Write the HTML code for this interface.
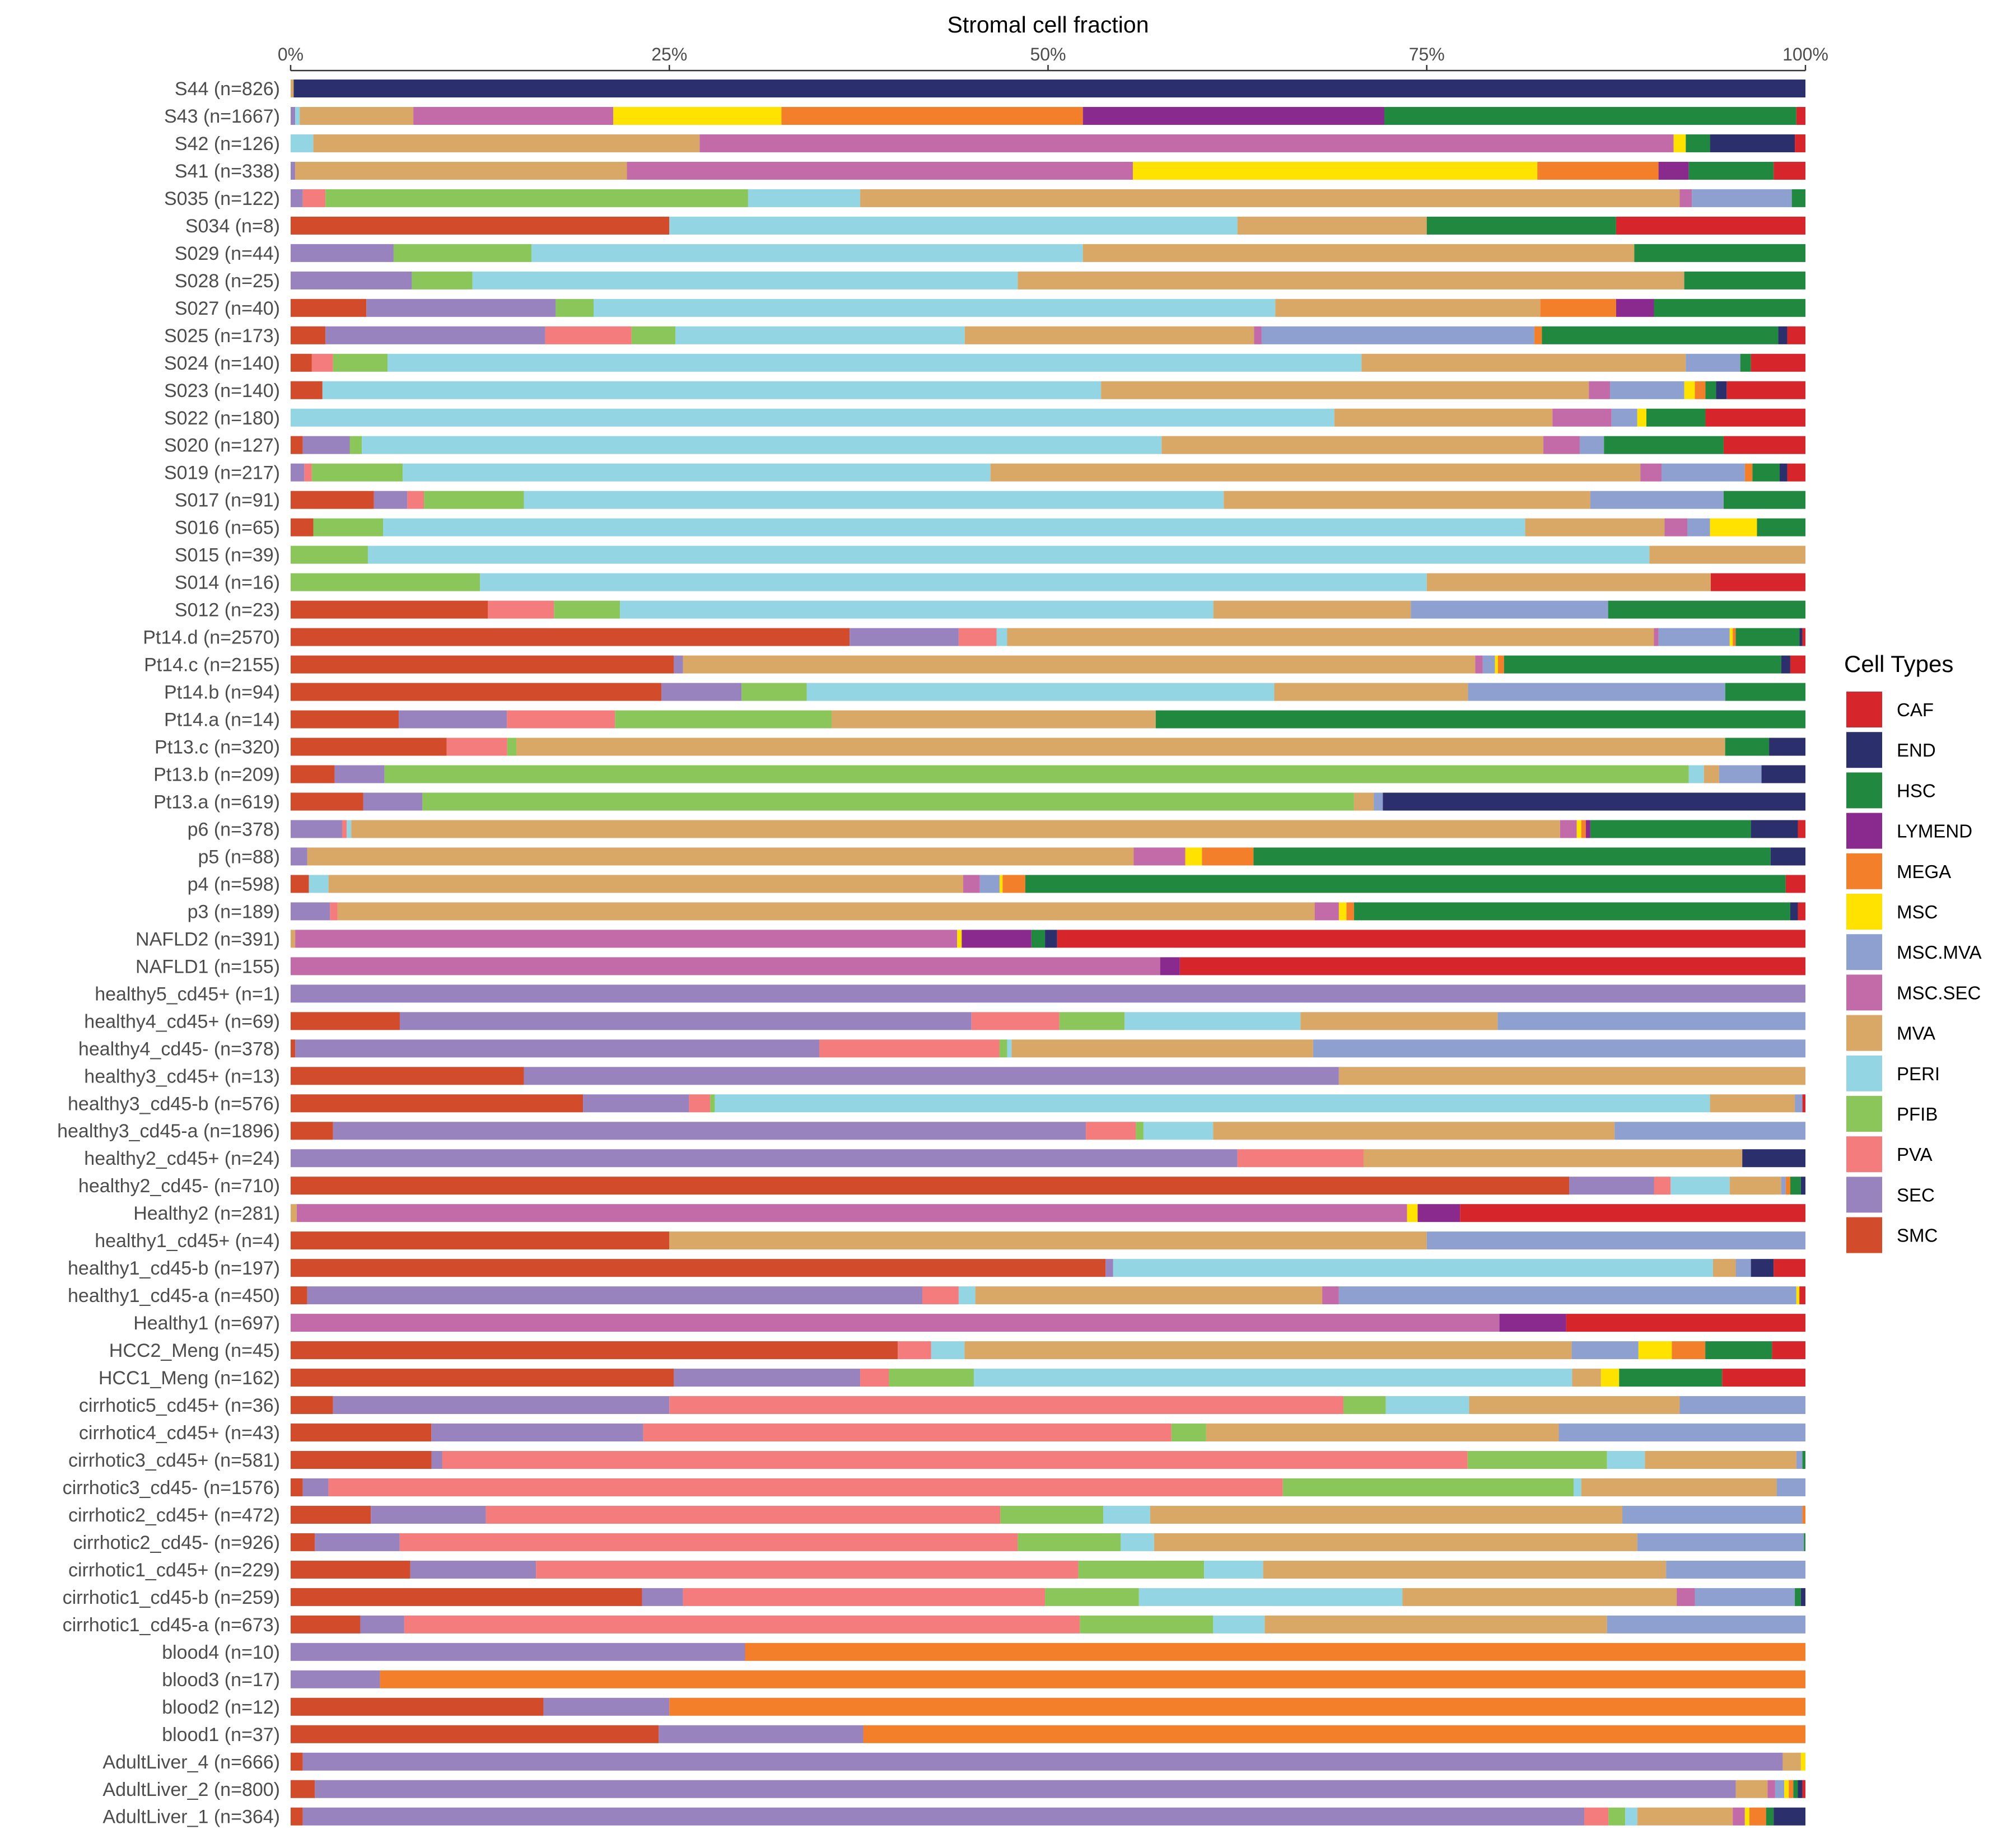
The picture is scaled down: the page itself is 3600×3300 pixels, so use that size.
<!DOCTYPE html>
<html><head><meta charset="utf-8"><style>
html,body{margin:0;padding:0;background:#fff;}
svg{display:block;font-family:"Liberation Sans",sans-serif;}
</style></head><body>
<svg id="chart" width="3600" height="3300" viewBox="0 0 3600 3300"></svg>
<script>
const cellTypes=["SMC","SEC","PVA","PFIB","PERI","MVA","MSC.SEC","MSC.MVA","MSC","MEGA","LYMEND","HSC","END","CAF"];
const colors=["#D24B2B","#9983BF","#F47C7C","#8BC65B","#93D5E3","#D9A766","#C26BA8","#8DA0CF","#FFE200","#F37F2A","#8B2A8E","#21893F","#2B2F6B","#D7262B"];
const legendOrder=["CAF","END","HSC","LYMEND","MEGA","MSC","MSC.MVA","MSC.SEC","MVA","PERI","PFIB","PVA","SEC","SMC"];
const sampleLabels=["S44 (n=826)","S43 (n=1667)","S42 (n=126)","S41 (n=338)","S035 (n=122)","S034 (n=8)","S029 (n=44)","S028 (n=25)","S027 (n=40)","S025 (n=173)","S024 (n=140)","S023 (n=140)","S022 (n=180)","S020 (n=127)","S019 (n=217)","S017 (n=91)","S016 (n=65)","S015 (n=39)","S014 (n=16)","S012 (n=23)","Pt14.d (n=2570)","Pt14.c (n=2155)","Pt14.b (n=94)","Pt14.a (n=14)","Pt13.c (n=320)","Pt13.b (n=209)","Pt13.a (n=619)","p6 (n=378)","p5 (n=88)","p4 (n=598)","p3 (n=189)","NAFLD2 (n=391)","NAFLD1 (n=155)","healthy5_cd45+ (n=1)","healthy4_cd45+ (n=69)","healthy4_cd45- (n=378)","healthy3_cd45+ (n=13)","healthy3_cd45-b (n=576)","healthy3_cd45-a (n=1896)","healthy2_cd45+ (n=24)","healthy2_cd45- (n=710)","Healthy2 (n=281)","healthy1_cd45+ (n=4)","healthy1_cd45-b (n=197)","healthy1_cd45-a (n=450)","Healthy1 (n=697)","HCC2_Meng (n=45)","HCC1_Meng (n=162)","cirrhotic5_cd45+ (n=36)","cirrhotic4_cd45+ (n=43)","cirrhotic3_cd45+ (n=581)","cirrhotic3_cd45- (n=1576)","cirrhotic2_cd45+ (n=472)","cirrhotic2_cd45- (n=926)","cirrhotic1_cd45+ (n=229)","cirrhotic1_cd45-b (n=259)","cirrhotic1_cd45-a (n=673)","blood4 (n=10)","blood3 (n=17)","blood2 (n=12)","blood1 (n=37)","AdultLiver_4 (n=666)","AdultLiver_2 (n=800)","AdultLiver_1 (n=364)"];
// order per row: SMC,SEC,PVA,PFIB,PERI,MVA,MSC.SEC,MSC.MVA,MSC,MEGA,LYMEND,HSC,END,CAF
const rowValues=[
[0,0,0,0,0,0.2,0,0,0,0,0,0,99.8,0],
[0,0.3,0,0,0.3,7.5,13.2,0,11.1,19.9,19.9,27.2,0,0.6],
[0,0,0,0,1.5,25.5,64.3,0,0.8,0,0,1.6,5.6,0.7],
[0,0.3,0,0,0,21.9,33.4,0,26.7,8.0,2.0,5.6,0,2.1],
[0,0.8,1.5,27.9,7.4,54.1,0.8,6.6,0,0,0,0.9,0,0],
[25,0,0,0,37.5,12.5,0,0,0,0,0,12.5,0,12.5],
[0,6.8,0,9.1,36.4,36.4,0,0,0,0,0,11.3,0,0],
[0,8,0,4,36,44,0,0,0,0,0,8,0,0],
[5,12.5,0,2.5,45,17.5,0,0,0,5,2.5,10,0,0],
[2.3,14.5,5.7,2.9,19.1,19.1,0.5,18.0,0,0.5,0,15.6,0.6,1.2],
[1.4,0,1.4,3.6,64.3,21.4,0,3.6,0,0,0,0.7,0,3.6],
[2.1,0,0,0,51.4,32.2,1.4,4.9,0.7,0.7,0,0.7,0.7,5.2],
[0,0,0,0,68.9,14.4,3.9,1.7,0.6,0,0,3.9,0,6.6],
[0.8,3.1,0,0.8,52.8,25.2,2.4,1.6,0,0,0,7.9,0,5.4],
[0,0.9,0.5,6.0,38.8,42.9,1.4,5.5,0,0.5,0,1.8,0.5,1.2],
[5.5,2.2,1.1,6.6,46.2,24.2,0,8.8,0,0,0,5.4,0,0],
[1.5,0,0,4.6,75.4,9.2,1.5,1.5,3.1,0,0,3.2,0,0],
[0,0,0,5.1,84.6,10.3,0,0,0,0,0,0,0,0],
[0,0,0,12.5,62.5,18.75,0,0,0,0,0,0,0,6.25],
[13,0,4.35,4.35,39.1,13,0,13,0,0,0,13,0,0],
[36.9,7.2,2.5,0,0.7,42.7,0.3,4.7,0.2,0.2,0,4.2,0.2,0.2],
[25.3,0.6,0,0,0,52.3,0.5,0.8,0.2,0.4,0,18.3,0.6,1.0],
[24.5,5.3,0,4.3,30.9,12.8,0,17.0,0,0,0,5.3,0,0],
[7.14,7.14,7.14,14.3,0,21.4,0,0,0,0,0,42.9,0,0],
[10.3,0,4.0,0.6,0,79.8,0,0,0,0,0,2.9,2.4,0],
[2.9,3.3,0,86.1,1.0,1.0,0,2.8,0,0,0,0,2.9,0],
[4.8,3.9,0,61.5,0,1.3,0,0.6,0,0,0,0,27.9,0],
[0,3.4,0.3,0,0.3,79.8,1.1,0,0.3,0.3,0.3,10.6,3.1,0.5],
[0,1.1,0,0,0,54.5,3.4,0,1.1,3.4,0,34.1,2.3,0],
[1.2,0,0,0,1.3,41.9,1.1,1.3,0.2,1.5,0,50.2,0,1.3],
[0,2.6,0.5,0,0,64.5,1.6,0,0.5,0.5,0,28.8,0.5,0.5],
[0,0,0,0,0,0.3,43.7,0,0.3,0,4.6,0.9,0.8,49.4],
[0,0,0,0,0,0,57.4,0,0,0,1.3,0,0,41.3],
[0,100,0,0,0,0,0,0,0,0,0,0,0,0],
[7.2,37.7,5.8,4.3,11.6,13.0,0,20.3,0,0,0,0,0,0],
[0.3,34.6,11.9,0.5,0.3,19.9,0,32.5,0,0,0,0,0,0],
[15.4,53.8,0,0,0,30.8,0,0,0,0,0,0,0,0],
[19.3,7.0,1.4,0.3,65.7,5.6,0,0.5,0,0,0,0,0,0.2],
[2.8,49.7,3.3,0.5,4.6,26.5,0,12.6,0,0,0,0,0,0],
[0,62.5,8.33,0,0,25,0,0,0,0,0,0,4.17,0],
[84.4,5.6,1.1,0,3.9,3.4,0,0.3,0,0.3,0,0.7,0.3,0],
[0,0,0,0,0,0.4,73.3,0,0.7,0,2.8,0,0,22.8],
[25,0,0,0,0,50,0,25,0,0,0,0,0,0],
[53.8,0.5,0,0,39.6,1.5,0,1.0,0,0,0,0,1.5,2.1],
[1.1,40.6,2.4,0,1.1,22.9,1.1,30.2,0.2,0,0,0,0,0.4],
[0,0,0,0,0,0,79.8,0,0,0,4.4,0,0,15.8],
[40,0,2.2,0,2.2,40,0,4.4,2.2,2.2,0,4.4,0,2.2],
[25.3,12.3,1.9,5.6,39.5,1.9,0,0,1.2,0,0,6.8,0,5.5],
[2.8,22.2,44.5,2.8,5.5,13.9,0,8.3,0,0,0,0,0,0],
[9.3,14,34.9,2.3,0,23.3,0,16.3,0,0,0,0,0,0],
[9.3,0.7,67.7,9.2,2.5,10.0,0,0.4,0,0,0,0.2,0,0],
[0.8,1.7,63.0,19.2,0.5,12.9,0,1.9,0,0,0,0,0,0],
[5.3,7.6,34.0,6.8,3.1,31.2,0,11.9,0,0.2,0,0,0,0],
[1.6,5.6,40.8,6.8,2.2,31.9,0,11.0,0,0,0,0.1,0,0],
[7.9,8.3,35.8,8.3,3.9,26.6,0,9.2,0,0,0,0,0,0],
[23.2,2.7,23.9,6.2,17.4,18.1,1.2,6.6,0,0,0,0.4,0.3,0],
[4.6,2.9,44.6,8.8,3.4,22.6,0,13.1,0,0,0,0,0,0],
[0,30,0,0,0,0,0,0,0,70,0,0,0,0],
[0,5.9,0,0,0,0,0,0,0,94.1,0,0,0,0],
[16.7,8.3,0,0,0,0,0,0,0,75,0,0,0,0],
[24.3,13.5,0,0,0,0,0,0,0,62.2,0,0,0,0],
[0.8,97.7,0,0,0,1.2,0,0,0.3,0,0,0,0,0],
[1.6,93.8,0,0,0,2.1,0.5,0.6,0.3,0.3,0,0.3,0.3,0.2],
[0.8,84.6,1.6,1.1,0.8,6.3,0.8,0,0.3,1.1,0,0.5,2.1,0]
];
const tickValues=[0,25,50,75,100];
const tickLabels=["0%","25%","50%","75%","100%"];

const NS="http://www.w3.org/2000/svg";
const svg=document.getElementById("chart");
const X0=519,X1=3224,Y0=158,STEP=48.98,BH=32;
const xScale=p=>X0+(X1-X0)*p/100;
const yScale=i=>Y0+i*STEP;
function mk(tag,attrs,text){const e=document.createElementNS(NS,tag);for(const k in attrs)e.setAttribute(k,attrs[k]);if(text!==undefined)e.textContent=text;svg.appendChild(e);return e;}

let t=mk("text",{x:(X0+X1)/2,y:58,"font-size":41,"text-anchor":"middle",fill:"#000"},"Stromal cell fraction");


let ax=mk("line",{x1:X0,x2:X1,y1:126,y2:126,stroke:"#333","stroke-width":2.5});


tickValues.forEach((v,k)=>{
  const x=xScale(v);
  const tk=mk("line",{x1:x,x2:x,y1:116,y2:126,stroke:"#333","stroke-width":2.5});
  
  
  const tl=mk("text",{x:x,y:108,"font-size":32,"text-anchor":"middle",fill:"#4d4d4d"},tickLabels[k]);
  
  
});

rowValues.forEach((vals,i)=>{
  const yc=yScale(i);
  const lb=mk("text",{x:500,y:yc+12,"font-size":34,"text-anchor":"end",fill:"#4d4d4d"},sampleLabels[i]);
  
  
  const total=vals.reduce((a,b)=>a+b,0);
  let cum=0;
  vals.forEach((v,j)=>{
    if(v<=0)return;
    const p0=cum/total*100; cum+=v; const p1=cum/total*100;
    const r=mk("rect",{x:xScale(p0),y:yc-BH/2,width:Math.max(0,xScale(p1)-xScale(p0)),height:BH,fill:colors[j]});
    
    
  });
});

const lt=mk("text",{x:3293,y:1200,"font-size":42,fill:"#000"},"Cell Types");


legendOrder.forEach((name,k)=>{
  const j=cellTypes.indexOf(name);
  const cy=1267+k*72.2;
  const b=mk("rect",{x:3297,y:cy-32,width:64,height:64,fill:colors[j]});
  
  
  const l=mk("text",{x:3387,y:cy+12,"font-size":33,fill:"#000"},name);
  
  
});
</script>
</body></html>
